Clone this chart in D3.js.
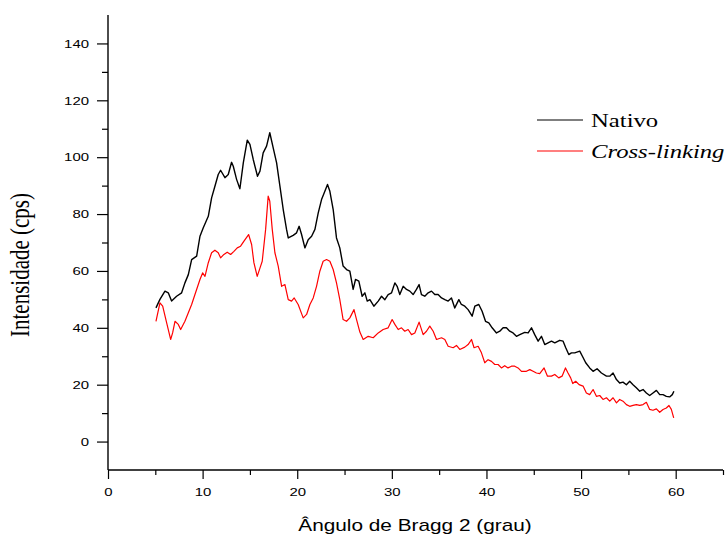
<!DOCTYPE html>
<html>
<head>
<meta charset="utf-8">
<script src="https://cdn.jsdelivr.net/npm/d3@7"></script>
<style>
  html, body { margin: 0; padding: 0; background: #fff; }
  svg { display: block; }
</style>
</head>
<body>
<svg id="chart" width="725" height="537"></svg>
<script>
const nativoAngle = [5.07,5.49,6.02,6.37,6.72,7.25,7.78,8.13,8.49,8.84,9.37,9.72,10.07,10.6,10.95,11.3,11.65,11.9,12.36,12.71,13.06,13.24,13.59,13.94,14.3,14.72,15.0,15.35,15.8,16.06,16.4,16.76,17.1,17.46,17.82,18.17,18.52,18.87,19.05,19.57,19.93,20.2,20.46,20.81,21.16,21.52,21.87,22.22,22.57,22.92,23.2,23.45,23.8,24.15,24.5,24.85,25.21,25.56,25.91,26.16,26.51,26.86,27.15,27.4,27.68,28.1,28.56,28.91,29.26,29.61,29.97,30.32,30.56,30.84,31.2,31.55,31.9,32.25,32.6,32.88,33.13,33.48,33.84,34.19,34.54,34.89,35.25,35.6,35.95,36.3,36.65,37.08,37.35,37.71,38.06,38.49,38.77,39.19,39.54,39.9,40.25,40.6,41.06,41.41,41.76,42.11,42.46,42.81,43.17,43.52,44.05,44.4,44.76,45.1,45.46,45.81,46.16,46.51,46.87,47.22,47.74,48.1,48.38,48.7,48.98,49.33,49.86,50.14,50.49,50.91,51.27,51.69,52.15,52.68,53.03,53.38,53.74,54.08,54.43,54.79,55.14,55.49,55.84,56.2,56.55,56.9,57.25,57.6,57.96,58.31,58.66,59.01,59.36,59.64,59.81];
const nativoIntensity = [47.0,50.0,52.9,52.3,49.4,51.1,52.3,55.8,58.7,64.0,65.2,72.2,75.2,79.2,85.7,89.8,93.9,95.4,92.8,93.9,98.2,96.8,92.2,88.9,98.0,106.0,104.5,99.2,93.3,95.1,101.5,103.9,108.6,103.3,98.0,89.8,81.6,74.6,71.6,72.5,73.4,75.7,72.8,68.1,71.0,72.2,74.6,80.4,85.1,88.0,90.4,88.0,81.6,71.6,68.1,61.7,60.5,59.9,53.5,57.0,56.4,51.1,52.3,49.4,49.9,47.6,49.4,51.1,49.9,51.7,52.3,55.8,54.6,51.7,54.6,53.5,52.9,51.7,53.5,55.2,51.7,51.1,52.3,52.9,51.7,51.7,50.5,49.9,49.4,50.5,47.0,49.9,48.2,47.6,46.4,44.1,47.6,48.2,45.8,42.3,41.7,40.0,38.2,38.8,40.0,40.0,38.8,38.2,37.0,37.6,38.4,38.2,40.0,37.6,35.3,37.0,34.1,34.7,35.3,34.7,35.6,35.3,33.0,30.6,31.2,31.2,31.8,30.0,27.7,25.9,24.7,25.6,24.1,23.0,23.0,24.1,21.8,20.6,20.9,20.0,21.2,20.0,18.9,17.7,18.3,17.1,16.2,17.1,18.0,16.5,16.5,15.9,15.7,16.5,17.7];

const crossAngle = [5.07,5.49,5.78,6.2,6.62,6.83,7.08,7.43,7.68,8.13,8.49,8.84,9.19,9.72,10.0,10.25,10.6,10.95,11.3,11.65,11.9,12.25,12.6,12.96,13.31,13.66,14.01,14.37,14.86,15.18,15.42,15.77,16.06,16.3,16.66,16.93,17.1,17.36,17.64,17.99,18.35,18.7,19.05,19.4,19.68,20.1,20.63,20.99,21.34,21.69,22.04,22.39,22.74,23.1,23.45,23.8,24.15,24.5,24.85,25.21,25.56,26.0,26.27,26.62,26.97,27.5,28.03,28.56,29.08,29.61,30.03,30.32,30.67,31.02,31.37,31.72,32.08,32.43,32.88,33.31,33.66,34.01,34.37,34.72,35.25,35.6,35.95,36.48,36.83,37.18,37.71,38.06,38.42,38.69,39.12,39.47,39.82,40.17,40.53,40.88,41.23,41.58,41.93,42.28,42.64,42.99,43.34,43.7,44.22,44.58,44.93,45.28,45.63,46.09,46.45,46.87,47.22,47.64,47.99,48.35,48.62,48.9,49.12,49.43,49.79,50.21,50.56,50.91,51.27,51.62,51.97,52.32,52.68,53.03,53.38,53.74,54.08,54.43,54.79,55.14,55.49,55.84,56.2,56.55,56.9,57.25,57.6,57.96,58.31,58.66,59.01,59.29,59.54,59.79];
const crossIntensity = [42.3,48.8,47.6,41.7,35.9,38.2,42.3,41.2,39.4,42.3,45.3,48.2,51.7,57.0,59.3,58.1,62.9,66.4,67.3,66.4,64.6,65.8,66.6,65.8,66.9,68.1,68.7,70.5,72.8,69.3,62.9,58.1,61.0,63.4,74.6,86.3,84.5,74.6,66.4,61.7,54.6,55.2,49.9,49.4,50.5,48.2,43.5,44.7,48.2,50.5,54.6,59.9,63.4,64.0,63.4,60.5,55.8,49.9,42.9,42.3,43.5,46.4,42.9,38.5,35.9,37.0,36.5,38.2,39.4,40.0,42.9,41.2,39.4,40.0,38.8,39.4,37.6,38.2,42.0,37.6,38.8,40.6,38.8,35.9,36.5,35.9,33.5,33.0,33.8,32.4,33.2,34.1,35.9,33.0,33.5,31.2,27.7,28.8,28.2,27.1,27.1,25.9,26.7,25.9,26.5,26.5,25.9,24.7,24.7,25.3,24.7,24.1,23.9,25.9,23.0,23.0,23.6,22.4,23.0,25.9,24.1,22.4,20.4,21.2,20.0,19.5,17.1,16.5,18.3,15.9,16.2,14.8,15.4,14.2,15.4,13.6,14.8,14.2,13.0,12.4,12.7,13.0,12.7,13.0,13.8,11.3,11.0,11.5,10.3,11.3,11.8,12.7,11.3,8.3];

const seriesNames = ["Nativo", "Cross-linking"];
const seriesColors = ["#000000", "#ff0000"];
const xMajorTicks = [0, 10, 20, 30, 40, 50, 60];
const xMinorTicks = [5, 15, 25, 35, 45, 55, 65];
const yMajorTicks = [0, 20, 40, 60, 80, 100, 120, 140];
const yMinorTicks = [10, 30, 50, 70, 90, 110, 130];
const xTitle = "Ângulo de Bragg 2 (grau)";
const yTitle = "Intensidade (cps)";

const SX = 1.3; // horizontal stretch of the original picture

const svg = d3.select("#chart");
const x = d3.scaleLinear().domain([0, 65]).range([108, 723]);
const y = d3.scaleLinear().domain([-10, 150]).range([470, 15]);

function stretchTicks(g, offX) {
  g.selectAll(".tick text").each(function () {
    const t = d3.select(this);
    const cx = +t.attr("x") || 0;
    t.attr("x", cx / SX).attr("transform", `scale(${SX},1)`);
  });
}

// Y axis
const yAxis = svg.append("g").attr("transform", `translate(${x(0)},0)`)
  .call(d3.axisLeft(y).tickValues(yMajorTicks).tickSize(11).tickPadding(8).tickSizeOuter(0))
  .call(g => g.select(".domain").remove());
yAxis.selectAll(".tick line").attr("stroke", "#000").attr("stroke-width", 1.2);
yAxis.selectAll(".tick text").attr("font-family", "'Liberation Sans', Arial, sans-serif").attr("font-size", 11.5).attr("fill", "#000");
stretchTicks(yAxis);
svg.append("g").attr("transform", `translate(${x(0)},0)`)
  .call(d3.axisLeft(y).tickValues(yMinorTicks).tickSize(6).tickFormat(""))
  .call(g => g.select(".domain").remove())
  .selectAll(".tick line").attr("stroke", "#000").attr("stroke-width", 1.2);

// X axis
const xAxis = svg.append("g").attr("transform", `translate(0,${y(-10)})`)
  .call(d3.axisBottom(x).tickValues(xMajorTicks).tickSize(9).tickPadding(9).tickSizeOuter(0))
  .call(g => g.select(".domain").remove());
xAxis.selectAll(".tick line").attr("stroke", "#000").attr("stroke-width", 1.2);
xAxis.selectAll(".tick text").attr("font-family", "'Liberation Sans', Arial, sans-serif").attr("font-size", 11.5).attr("fill", "#000");
stretchTicks(xAxis);
svg.append("g").attr("transform", `translate(0,${y(-10)})`)
  .call(d3.axisBottom(x).tickValues(xMinorTicks).tickSize(5).tickFormat(""))
  .call(g => g.select(".domain").remove())
  .selectAll(".tick line").attr("stroke", "#000").attr("stroke-width", 1.2);

// axis lines
svg.append("line").attr("x1", x(0)).attr("x2", x(0)).attr("y1", y(150)).attr("y2", y(-10))
  .attr("stroke", "#000").attr("stroke-width", 1.4);
svg.append("line").attr("x1", x(0)).attr("x2", x(65)).attr("y1", y(-10)).attr("y2", y(-10))
  .attr("stroke", "#000").attr("stroke-width", 1.4);

// Titles
svg.append("g").attr("transform", `translate(415,531) scale(${SX},1)`)
  .append("text").attr("text-anchor", "middle")
  .attr("font-family", "'Liberation Sans', Arial, sans-serif").attr("font-size", 16).attr("fill", "#000")
  .text(xTitle);
svg.append("g").attr("transform", `translate(29,265) scale(${SX},1) rotate(-90)`)
  .append("text").attr("text-anchor", "middle")
  .attr("font-family", "'Liberation Serif', 'Times New Roman', serif").attr("font-size", 21).attr("fill", "#000")
  .text(yTitle);

// Lines
const line = d3.line().x(d => x(d[0])).y(d => y(d[1]));
const series = [
  { name: seriesNames[0], color: seriesColors[0], pts: d3.zip(nativoAngle, nativoIntensity), w: 1.4 },
  { name: seriesNames[1], color: seriesColors[1], pts: d3.zip(crossAngle, crossIntensity), w: 1.2 }
];
svg.selectAll("path.series").data(series).join("path")
  .attr("class", "series")
  .attr("fill", "none")
  .attr("stroke", d => d.color)
  .attr("stroke-width", d => d.w)
  .attr("stroke-linejoin", "round")
  .attr("d", d => line(d.pts));

// Legend
const legend = svg.append("g");
series.forEach((s, i) => {
  const ly = 120 + i * 31;
  legend.append("line").attr("x1", 537).attr("x2", 583).attr("y1", ly).attr("y2", ly)
    .attr("stroke", s.color).attr("stroke-width", 1.2);
  legend.append("g").attr("transform", `translate(591,${ly + 7}) scale(${SX},1)`)
    .append("text")
    .attr("font-family", "'Liberation Serif', 'Times New Roman', serif")
    .attr("font-size", 19)
    .attr("font-style", i === 1 ? "italic" : "normal")
    .attr("fill", "#000")
    .text(s.name);
});
</script>
</body>
</html>
